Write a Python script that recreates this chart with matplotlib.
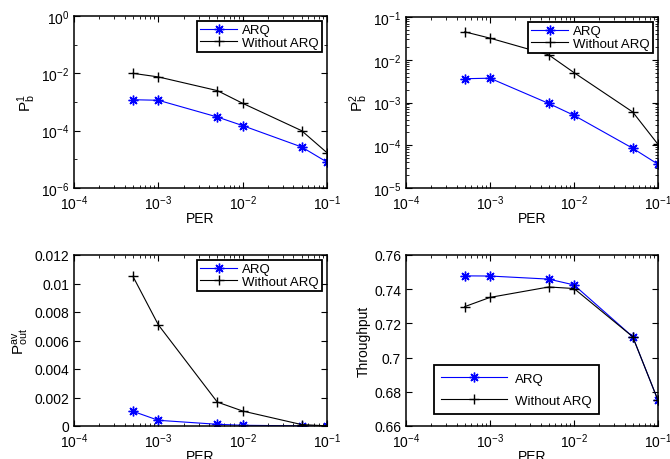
import numpy as np
import matplotlib.pyplot as plt
from matplotlib.ticker import LogLocator, NullFormatter, FixedLocator

plt.rcParams['font.family'] = ['Liberation Sans', 'DejaVu Sans']
plt.rcParams['font.size'] = 10
plt.rcParams['mathtext.fontset'] = 'custom'
plt.rcParams['mathtext.rm'] = 'Liberation Sans'
plt.rcParams['mathtext.it'] = 'Liberation Sans'

per = [5e-4, 1e-3, 5e-3, 1e-2, 5e-2, 1e-1]

pb1_arq = [1.2e-3, 1.15e-3, 3e-4, 1.5e-4, 2.7e-5, 8e-6]
pb1_noarq = [1e-2, 7.5e-3, 2.5e-3, 9e-4, 1e-4, 1.7e-5]

pb2_arq = [3.6e-3, 3.7e-3, 9.5e-4, 5e-4, 8.5e-5, 3.6e-5]
pb2_noarq = [4.5e-2, 3.2e-2, 1.3e-2, 5e-3, 6e-4, 1.05e-4]

pout_arq = [0.00103, 0.0004, 0.00012, 0.00005, 0.00001, 0.0]
pout_noarq = [0.0105, 0.0071, 0.00168, 0.00105, 0.0001, 0.00001]

thr_arq = [0.7478, 0.7477, 0.7459, 0.7425, 0.7122, 0.675]
thr_noarq = [0.7298, 0.7352, 0.7413, 0.7404, 0.7122, 0.675]

W, H = 670, 460
fig = plt.figure(figsize=(W / 100, H / 100), dpi=100)


def make_ax(l, t, r, b):
    return fig.add_axes([l / W, 1 - b / H, (r - l) / W, (b - t) / H])


ax1 = make_ax(74, 17, 327, 189)
ax2 = make_ax(406, 18, 658, 189)
ax3 = make_ax(74, 256, 327, 427)
ax4 = make_ax(406, 256, 658, 427)

panels = [
    (ax1, pb1_arq, pb1_noarq, r'P$_\mathrm{b}^\mathrm{1}$'),
    (ax2, pb2_arq, pb2_noarq, r'P$_\mathrm{b}^\mathrm{2}$'),
    (ax3, pout_arq, pout_noarq, r'P$_\mathrm{out}^\mathrm{av}$'),
    (ax4, thr_arq, thr_noarq, 'Throughput'),
]

asterisk = (8, 2, 0)

for ax, a, n, yl in panels:
    ax.plot(per, a, color='blue', marker=asterisk, ms=7, mew=1.0, lw=0.8, label='ARQ')
    ax.plot(per, n, color='black', marker='+', ms=7, mew=1.0, lw=0.8, label='Without ARQ')
    ax.set_xscale('log')
    ax.set_xlim(1e-4, 1e-1)
    ax.xaxis.set_major_locator(LogLocator(base=10, numticks=10))
    ax.xaxis.set_minor_locator(LogLocator(base=10, subs=np.arange(2, 10), numticks=10))
    ax.xaxis.set_minor_formatter(NullFormatter())
    ax.set_xlabel('PER', labelpad=-1)
    ax.set_ylabel(yl, labelpad=2, fontsize=11 if yl.startswith('P') else 10)
    ax.tick_params(which='both', direction='in', top=True, right=True)
    ax.tick_params(which='major', length=4)
    ax.tick_params(which='minor', length=2)
    ax.tick_params(axis='x', pad=4)
    for s in ax.spines.values():
        s.set_linewidth(1.1)

ax1.set_yscale('log')
ax1.set_ylim(1e-6, 1e0)
ax1.yaxis.set_major_locator(FixedLocator([1e-6, 1e-4, 1e-2, 1e0]))
ax1.yaxis.set_minor_locator(FixedLocator([1e-5, 1e-3, 1e-1]))
ax1.yaxis.set_minor_formatter(NullFormatter())

ax2.set_yscale('log')
ax2.set_ylim(1e-5, 1e-1)
ax2.yaxis.set_major_locator(LogLocator(base=10, numticks=10))
ax2.yaxis.set_minor_locator(LogLocator(base=10, subs=np.arange(2, 10), numticks=10))
ax2.yaxis.set_minor_formatter(NullFormatter())

ax3.set_ylim(0, 0.012)
ax3.set_yticks([0, 0.002, 0.004, 0.006, 0.008, 0.01, 0.012])
ax3.set_yticklabels(['0', '0.002', '0.004', '0.006', '0.008', '0.01', '0.012'])

ax4.set_ylim(0.66, 0.76)
ax4.set_yticks([0.66, 0.68, 0.7, 0.72, 0.74, 0.76])
ax4.set_yticklabels(['0.66', '0.68', '0.7', '0.72', '0.74', '0.76'])

for ax in (ax1, ax2, ax3):
    leg = ax.legend(loc='upper right', fancybox=False, edgecolor='black',
                    fontsize=9.5, borderpad=0.25, labelspacing=0.05,
                    handlelength=2.8, handletextpad=0.4, borderaxespad=0.35,
                    framealpha=1)
    leg.get_frame().set_linewidth(1.3)

leg = ax4.legend(loc='lower left', bbox_to_anchor=(0.11, 0.07), fancybox=False,
                 edgecolor='black', fontsize=9.5, borderpad=0.55,
                 labelspacing=0.75, handlelength=5.0, handletextpad=0.6,
                 borderaxespad=0, framealpha=1)
leg.get_frame().set_linewidth(1.3)

fig.savefig('out.png', dpi=100)
